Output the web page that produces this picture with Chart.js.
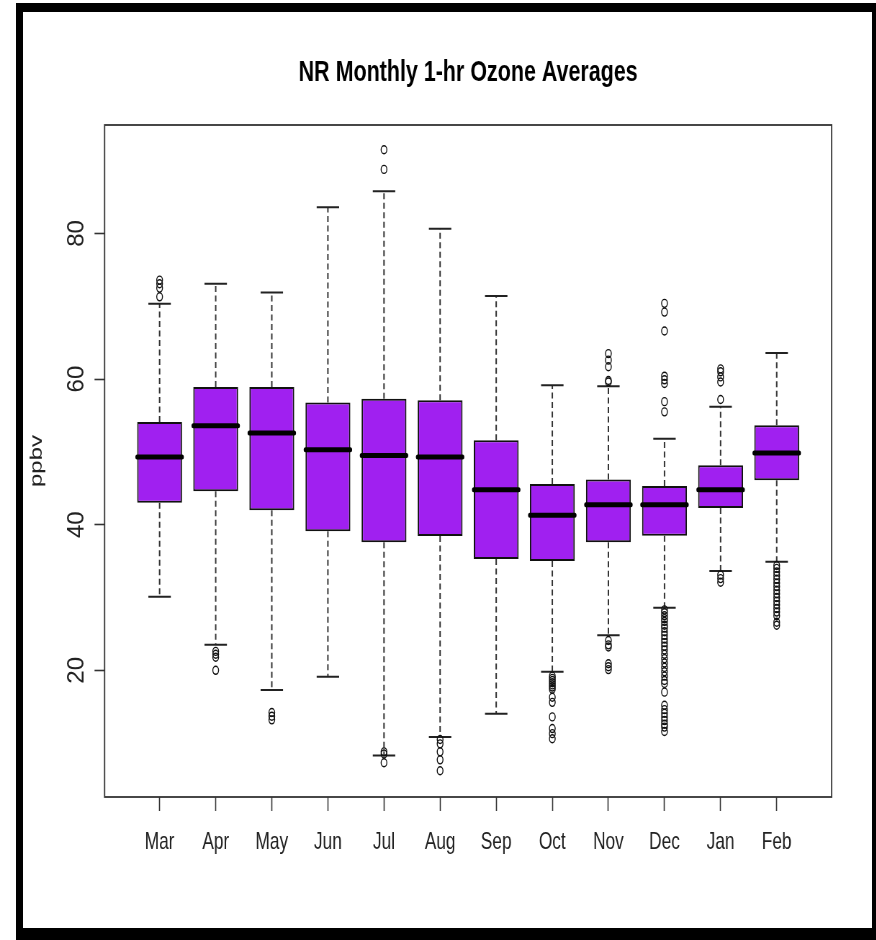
<!DOCTYPE html>
<html><head><meta charset="utf-8">
<script src="https://cdn.jsdelivr.net/npm/chart.js@4.4.1/dist/chart.umd.min.js"></script>
<style>
html,body{margin:0;padding:0;background:#fff;width:876px;height:940px;overflow:hidden;}
#frame{position:absolute;left:16px;top:3px;width:860px;height:937px;box-sizing:border-box;border-style:solid;border-color:#000;border-width:9px 4px 12px 7px;background:#fff;}
#wrap{position:absolute;left:0;top:0;width:1217px;height:940px;transform:scaleX(0.72);transform-origin:0 0;}
</style></head><body>
<div id="frame"></div>
<div id="wrap"><canvas id="c" width="1217" height="940"></canvas></div>
<script>
// ---- data ----
const months = ['Mar','Apr','May','Jun','Jul','Aug','Sep','Oct','Nov','Dec','Jan','Feb'];
const whiskerLow  = [30.1, 23.5, 17.3, 19.1,  8.3, 10.85, 14.05, 19.8, 24.8, 28.6, 33.65, 34.9];
const q1          = [43.0, 44.6, 42.0, 39.1, 37.6, 38.45, 35.3, 35.0, 37.6, 38.5, 42.3, 46.1];
const median      = [49.3, 53.6, 52.6, 50.3, 49.5, 49.3, 44.8, 41.3, 42.75, 42.75, 44.8, 49.85];
const q3          = [54.1, 58.9, 58.9, 56.8, 57.3, 57.1, 51.6, 45.6, 46.2, 45.3, 48.15, 53.65];
const whiskerHigh = [70.35, 73.1, 71.9, 83.6, 85.8, 80.65, 71.4, 59.15, 59.0, 51.8, 56.2, 63.6];
const outliers = [
  [71.3, 72.5, 73.1, 73.6],
  [22.6, 22.2, 21.8, 20.0],
  [14.2, 13.7, 13.2],
  [],
  [91.5, 88.8, 8.8, 8.5, 7.3],
  [10.5, 9.9, 8.8, 7.7, 6.2],
  [],
  [19.2, 18.9, 18.6, 18.3, 18.0, 17.7, 17.4, 16.3, 15.6, 13.6, 12.0, 11.3, 10.6],
  [59.6, 59.8, 61.7, 62.6, 63.5, 24.1, 23.5, 23.2, 20.9, 20.5, 20.1],
  [55.5, 56.9, 59.4, 59.9, 60.4, 66.6, 69.2, 70.4,
   28.3, 27.9, 27.5, 27.1, 26.7, 26.2, 25.8, 25.3, 24.8, 24.3, 23.8, 23.3, 22.8, 22.2,
   21.6, 21.0, 20.4, 19.8, 19.2, 18.6, 18.2, 17.0, 15.2, 14.6, 14.1, 13.6, 13.1, 12.6, 12.2, 11.6],
  [57.2, 59.6, 60.3, 61.0, 61.4, 33.1, 32.6, 32.1],
  [34.4, 34.0, 33.5, 33.0, 32.5, 32.0, 31.5, 31.0, 30.5, 30.0, 29.5, 29.0, 28.5, 28.0, 27.5, 26.6, 26.2]
];
const yTicks = [20, 40, 60, 80];
const yTickLabels = ['20', '40', '60', '80'];
const yRange = [2.6, 94.9];
const xRange = [0.02, 12.98];
const titleText = 'NR Monthly 1-hr Ozone Averages';
const yTitle = 'ppbv';

// ---- styling / geometry ----
const K = 0.72;             // horizontal squeeze of the whole picture
const BOX_HALF = 0.4, CAP_HALF = 0.2;
const FONT = '"Liberation Sans", Arial, sans-serif';
const PURPLE = '#A020F0';

const xs = months.map((_, i) => i + 1);
const boxData = xs.map((x, i) => ({x, y: [q1[i], q3[i]]}));
const whiskerData = [], capData = [], medianData = [];
xs.forEach((x, i) => {
  whiskerData.push({x, y: q3[i]}, {x, y: whiskerHigh[i]}, {x, y: null},
                   {x, y: q1[i]}, {x, y: whiskerLow[i]}, {x, y: null});
  capData.push({x: x - CAP_HALF, y: whiskerHigh[i]}, {x: x + CAP_HALF, y: whiskerHigh[i]}, {x, y: null},
               {x: x - CAP_HALF, y: whiskerLow[i]}, {x: x + CAP_HALF, y: whiskerLow[i]}, {x, y: null});
  medianData.push({x: x - BOX_HALF, y: median[i]}, {x: x + BOX_HALF, y: median[i]}, {x, y: null});
});
const outlierData = outliers.flatMap((arr, i) => arr.map(v => ({x: i + 1, y: v})));

const plotBox = {
  id: 'plotBox',
  afterDraw(chart) {
    const {ctx, chartArea: a, scales: {y}} = chart;
    ctx.save();
    ctx.strokeStyle = '#333';
    ctx.lineWidth = 1.8;
    ctx.strokeRect(a.left, a.top, a.right - a.left, a.bottom - a.top);
    ctx.fillStyle = '#222';
    ctx.font = '24px ' + FONT;
    ctx.textAlign = 'center';
    ctx.textBaseline = 'alphabetic';
    yTicks.forEach((v, i) => {
      ctx.save();
      ctx.translate(116, y.getPixelForValue(v));
      ctx.scale(1 / K, 1);
      ctx.rotate(-Math.PI / 2);
      ctx.fillText(yTickLabels[i], 0, 0);
      ctx.restore();
    });
    ctx.restore();
  }
};

new Chart(document.getElementById('c'), {
  type: 'bar',
  data: {
    datasets: [
      {type: 'line', label: 'median', data: medianData, borderColor: '#000', borderWidth: 5,
       borderCapStyle: 'round', pointRadius: 0, spanGaps: false, fill: false, order: 0},
      {type: 'scatter', label: 'outliers', data: outlierData, pointStyle: 'circle', pointRadius: 4,
       pointBorderWidth: 1.4, borderColor: '#111', backgroundColor: 'rgba(0,0,0,0)', order: 1},
      {type: 'bar', label: 'box', data: boxData, backgroundColor: PURPLE, borderColor: '#111',
       borderWidth: 2, borderSkipped: false, barPercentage: 0.8, categoryPercentage: 1, order: 2},
      {type: 'line', label: 'caps', data: capData, borderColor: '#222', borderWidth: 2,
       pointRadius: 0, spanGaps: false, fill: false, order: 3},
      {type: 'line', label: 'whiskers', data: whiskerData, borderColor: '#333', borderWidth: 2,
       borderDash: [6, 3.5], pointRadius: 0, spanGaps: false, fill: false, order: 4}
    ]
  },
  options: {
    responsive: false,
    maintainAspectRatio: false,
    animation: false,
    layout: {padding: {left: 0, right: 61.9, top: 0, bottom: 0}},
    plugins: {
      legend: {display: false},
      tooltip: {enabled: false},
      title: {display: true, text: titleText, fullSize: false, color: '#000',
              font: {family: FONT, size: 29.8, weight: 'bold'}, padding: {top: 55, bottom: 34.24}}
    },
    scales: {
      x: {
        type: 'linear', min: xRange[0], max: xRange[1], offset: false,
        afterBuildTicks: s => { s.ticks = xs.map(v => ({value: v})); },
        afterFit: s => { s.height = 143; },
        ticks: {callback: (v) => months[v - 1], color: '#222', padding: 17,
                font: {family: FONT, size: 24}, maxRotation: 0, minRotation: 0, autoSkip: false},
        grid: {display: true, drawOnChartArea: false, drawTicks: true, tickLength: 14,
               tickColor: '#333', tickWidth: 1.6, offset: false},
        border: {display: false}
      },
      y: {
        type: 'linear', min: yRange[0], max: yRange[1],
        afterBuildTicks: s => { s.ticks = yTicks.map(v => ({value: v})); },
        afterFit: s => { s.width = 145.3; },
        ticks: {display: false},
        grid: {display: true, drawOnChartArea: false, drawTicks: true, tickLength: 14,
               tickColor: '#333', tickWidth: 1.6},
        border: {display: false},
        title: {display: true, text: yTitle, color: '#222', font: {family: FONT, size: 24},
                padding: {top: 37, bottom: 0}}
      }
    }
  },
  plugins: [plotBox]
});
</script>
</body></html>
